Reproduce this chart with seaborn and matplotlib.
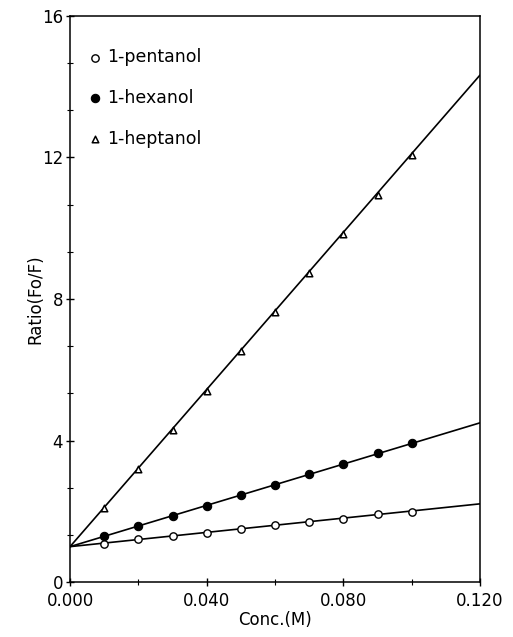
import matplotlib
matplotlib.use("Agg")
import matplotlib.pyplot as plt
import seaborn as sns
import pandas as pd
from matplotlib.ticker import MultipleLocator

conc = [0.01, 0.02, 0.03, 0.04, 0.05, 0.06, 0.07, 0.08, 0.09, 0.10]
pentanol = [1.08, 1.21, 1.31, 1.38, 1.51, 1.62, 1.69, 1.79, 1.91, 1.99]
hexanol = [1.29, 1.59, 1.87, 2.16, 2.45, 2.73, 3.04, 3.33, 3.65, 3.92]
heptanol = [2.08, 3.20, 4.29, 5.39, 6.52, 7.62, 8.74, 9.84, 10.95, 12.07]

fit_x = [0.0, 0.12]
fit_pentanol = [1.0, 2.21]
fit_hexanol = [1.0, 4.50]
fit_heptanol = [1.0, 14.33]

labels = ["1-pentanol", "1-hexanol", "1-heptanol"]

sns.set_style("ticks")
plt.rcParams['font.family'] = ['DejaVu Sans']
plt.rcParams['text.color'] = 'black'
plt.rcParams['axes.labelcolor'] = 'black'
plt.rcParams['xtick.color'] = 'black'
plt.rcParams['ytick.color'] = 'black'

fig = plt.figure(figsize=(5.13, 6.37), dpi=100)
ax = fig.add_axes([0.1365, 0.0863, 0.7992, 0.8886])

for fy in (fit_pentanol, fit_hexanol, fit_heptanol):
    sns.lineplot(x=fit_x, y=fy, ax=ax, color="black", linewidth=1.2, zorder=2)

sns.scatterplot(x=conc, y=pentanol, ax=ax, marker="o", s=28, facecolor="white",
                edgecolor="black", linewidth=1.0, zorder=3, label=labels[0])
sns.scatterplot(x=conc, y=hexanol, ax=ax, marker="o", s=36, color="black",
                edgecolor="black", linewidth=0.8, zorder=3, label=labels[1])
sns.scatterplot(x=conc, y=heptanol, ax=ax, marker="^", s=22, facecolor="white",
                edgecolor="black", linewidth=1.1, zorder=3, label=labels[2])

ax.set_xlim(0, 0.12)
ax.set_ylim(0, 16)
ax.set_xticks([0.0, 0.04, 0.08, 0.12])
ax.set_xticklabels(["0.000", "0.040", "0.080", "0.120"])
ax.set_yticks([0, 4, 8, 12, 16])
ax.set_yticklabels(["0", "4", "8", "12", "16"])
ax.xaxis.set_minor_locator(MultipleLocator(0.02))
ax.yaxis.set_minor_locator(MultipleLocator(4 / 3))
ax.tick_params(axis="both", which="major", direction="inout", length=6, width=1,
               labelsize=12, colors="black")
ax.tick_params(axis="x", which="major", pad=4)
ax.tick_params(axis="y", which="major", pad=2)
ax.tick_params(axis="both", which="minor", direction="inout", length=4, width=0.8)

for sp in ax.spines.values():
    sp.set_visible(True)
    sp.set_color("black")
    sp.set_linewidth(1.1)

ax.set_xlabel("Conc.(M)", fontsize=12, labelpad=1)
ax.set_ylabel("Ratio(Fo/F)", fontsize=12, labelpad=-2)

leg = ax.legend(loc="upper left", bbox_to_anchor=(0.018, 0.955), frameon=False,
                fontsize=12.5, handletextpad=0.1, labelspacing=1.3,
                handlelength=1.2, borderaxespad=0)
for t in leg.get_texts():
    t.set_color("black")

fig.savefig("out.png", dpi=100)
